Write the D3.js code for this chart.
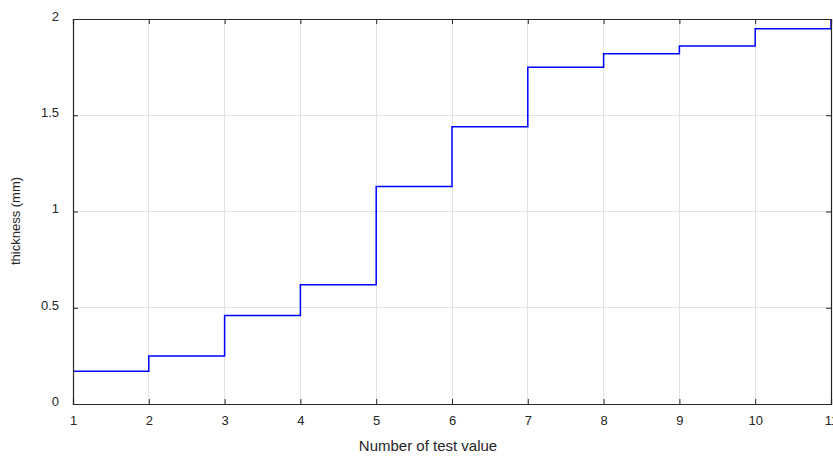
<!DOCTYPE html>
<html><head><meta charset="utf-8">
<script src="https://cdn.jsdelivr.net/npm/d3@7"></script>
<style>body{margin:0;background:#fff}svg{display:block}text{font-family:"Liberation Sans",Arial,sans-serif}</style>
</head><body><svg id="c" width="833" height="456"></svg>
<script>
const xs = [1,2,3,4,5,6,7,8,9,10,11];
const thickness = [0.17,0.25,0.46,0.62,1.13,1.44,1.75,1.82,1.86,1.95,2.0];
const xTicks = [1,2,3,4,5,6,7,8,9,10,11];
const yTicks = [0,0.5,1,1.5,2];
const yTickLabels = ["0","0.5","1","1.5","2"];

const svg = d3.select("#c");
const L=73, R=831, T=19, B=404;
const x = d3.scaleLinear().domain([1,11]).range([L,R]);
const y = d3.scaleLinear().domain([0,2]).range([B,T]);

// grid
svg.append("g").selectAll("line").data(xTicks).join("line")
  .attr("x1",d=>x(d)).attr("x2",d=>x(d)).attr("y1",T).attr("y2",B)
  .attr("stroke","#e3e3e3").attr("stroke-width",1).attr("shape-rendering","crispEdges");
svg.append("g").selectAll("line").data(yTicks).join("line")
  .attr("x1",L).attr("x2",R).attr("y1",d=>y(d)).attr("y2",d=>y(d))
  .attr("stroke","#e3e3e3").attr("stroke-width",1).attr("shape-rendering","crispEdges");

// clip
svg.append("clipPath").attr("id","clp").append("rect").attr("x",L).attr("y",T-1).attr("width",R-L+1).attr("height",B-T+1);

const line = d3.line().x((d,i)=>x(xs[i])).y(d=>y(d)).curve(d3.curveStepAfter);
svg.append("path").datum(thickness).attr("d",line).attr("fill","none")
  .attr("stroke","#0000ff").attr("stroke-width",1.5).attr("clip-path","url(#clp)");

// axes
const ax = d3.axisBottom(x).tickValues(xTicks).tickSize(-5).tickPadding(12).tickFormat(d3.format("d"));
const gx = svg.append("g").attr("transform",`translate(0,${B})`).call(ax);
const ay = d3.axisLeft(y).tickValues(yTicks).tickSize(-5).tickPadding(14).tickFormat((d,i)=>yTickLabels[i]);
const gy = svg.append("g").attr("transform",`translate(${L},0)`).call(ay);
gy.selectAll(".tick text").attr("dy","0.1em");
const axTop = d3.axisTop(x).tickValues(xTicks).tickSize(-5).tickFormat("");
svg.append("g").attr("transform",`translate(0,${T})`).call(axTop);
const ayR = d3.axisRight(y).tickValues(yTicks).tickSize(-5).tickFormat("");
svg.append("g").attr("transform",`translate(${R},0)`).call(ayR);
svg.selectAll(".domain").attr("stroke","#262626").attr("stroke-width",1.2);
svg.selectAll(".tick line").attr("stroke","#262626");
svg.selectAll(".tick text").attr("fill","#262626").attr("font-size",13)
  .attr("font-family","'Liberation Sans',Arial,sans-serif");

svg.append("text").attr("x",428).attr("y",451).attr("text-anchor","middle")
  .attr("font-size",15).attr("fill","#262626").text("Number of test value");
svg.append("text").attr("transform",`translate(20,221) rotate(-90)`).attr("text-anchor","middle")
  .attr("font-size",13).attr("fill","#262626").text("thickness (mm)");
</script></body></html>
